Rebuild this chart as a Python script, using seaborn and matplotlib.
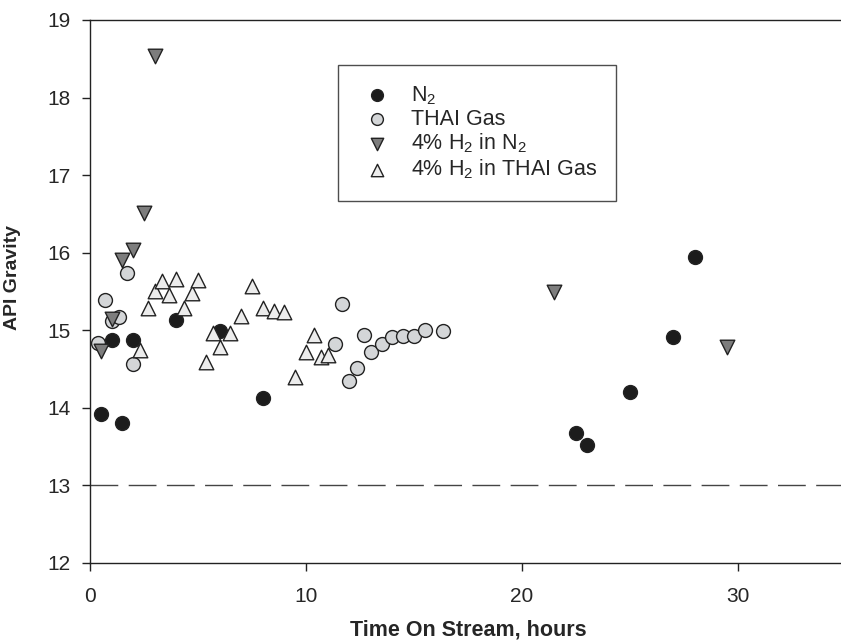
import matplotlib
matplotlib.use("Agg")
import matplotlib.pyplot as plt
import seaborn as sns
import pandas as pd

# ---------------- data ----------------
n2_x = [0.5, 1.5, 1.0, 2.0, 4.0, 6.0, 8.0, 22.5, 23.0, 25.0, 27.0, 28.0]
n2_y = [13.92, 13.81, 14.88, 14.88, 15.13, 14.99, 14.13, 13.67, 13.52, 14.21, 14.91, 15.95]

thai_x = [0.35, 0.7, 1.0, 1.35, 1.7, 2.0, 11.35, 11.67, 12.0, 12.35, 12.67, 13.0,
          13.5, 14.0, 14.5, 15.0, 15.5, 16.33]
thai_y = [14.84, 15.39, 15.12, 15.17, 15.74, 14.56, 14.82, 15.34, 14.35, 14.52, 14.94, 14.72,
          14.82, 14.91, 14.92, 14.92, 15.01, 14.99]

h2n2_x = [0.5, 1.0, 1.5, 2.0, 2.5, 3.0, 21.5, 29.5]
h2n2_y = [14.73, 15.14, 15.91, 16.04, 16.51, 18.54, 15.49, 14.79]

h2thai_x = [2.3, 2.7, 3.0, 3.35, 3.67, 4.0, 4.35, 4.7, 5.0, 5.35, 5.7, 6.0, 6.5,
            7.0, 7.5, 8.0, 8.5, 9.0, 9.5, 10.0, 10.35, 10.7, 11.0]
h2thai_y = [14.75, 15.29, 15.50, 15.63, 15.46, 15.66, 15.29, 15.48, 15.65, 14.59, 14.97,
            14.78, 14.97, 15.18, 15.57, 15.29, 15.25, 15.24, 14.40, 14.72, 14.94, 14.66, 14.68]

series_labels = ["N$_2$", "THAI Gas", "4% H$_2$ in N$_2$", "4% H$_2$ in THAI Gas"]
reference_level = 13.0
x_ticks = [0, 10, 20, 30]
y_ticks = [12, 13, 14, 15, 16, 17, 18, 19]

# ---------------- style ----------------
sns.set_style("ticks")
plt.rcParams["font.family"] = ["Liberation Sans", "DejaVu Sans"]
plt.rcParams["mathtext.fontset"] = "custom"
plt.rcParams["mathtext.rm"] = "Liberation Sans"
plt.rcParams["mathtext.it"] = "Liberation Sans"
plt.rcParams["mathtext.default"] = "regular"

fig = plt.figure(figsize=(8.41, 6.40), dpi=100)
W, H = 841, 640
left, right, top, bottom = 90, 846, 20, 563
ax = fig.add_axes([left / W, 1 - bottom / H, (right - left) / W, (bottom - top) / H])

edge = "#222222"
specs = [
    (n2_x, n2_y, "o", "#1c1c1c", 100),
    (thai_x, thai_y, "o", "#d4d6d8", 100),
    (h2n2_x, h2n2_y, "v", "#7d7d7d", 110),
    (h2thai_x, h2thai_y, "^", "#ececec", 110),
]
for (xs, ys, mk, col, s), lab in zip(specs, series_labels):
    df = pd.DataFrame({"x": xs, "y": ys})
    sns.scatterplot(data=df, x="x", y="y", marker=mk, color=col, s=s,
                    edgecolor=edge, linewidth=1.0, label=lab, ax=ax, zorder=3)

ax.axhline(reference_level, color="#444444", lw=1.0, dashes=(20, 7.5), zorder=1)

ax.set_xlim(0, 35)
ax.set_ylim(12, 19)
ax.set_xticks(x_ticks)
ax.set_yticks(y_ticks)
ax.tick_params(axis="both", direction="out", length=6, width=1, labelsize=15,
               color="#222222")
ax.tick_params(axis="y", pad=8)
ax.tick_params(axis="x", pad=11)
for sp in ["left", "bottom", "top"]:
    ax.spines[sp].set_visible(True)
    ax.spines[sp].set_linewidth(1.0)
    ax.spines[sp].set_color("#222222")
ax.spines["right"].set_visible(False)

ax.set_xlabel("Time On Stream, hours", fontsize=15.5, fontweight="bold", labelpad=10)
ax.set_ylabel("API Gravity", fontsize=14, fontweight="bold")
ax.yaxis.set_label_coords(-0.091, 0.525)

handles, labels = ax.get_legend_handles_labels()
leg = ax.legend(handles, labels, loc="upper left", bbox_to_anchor=(0.328, 0.918),
                frameon=True, fancybox=False, fontsize=15.5, borderpad=0.9,
                labelspacing=0.1, handletextpad=0.62, handlelength=1.86,
                borderaxespad=0.0, markerscale=0.85)
leg.get_frame().set_edgecolor("#222222")
leg.get_frame().set_linewidth(1.0)

fig.savefig("out.png", dpi=100)
